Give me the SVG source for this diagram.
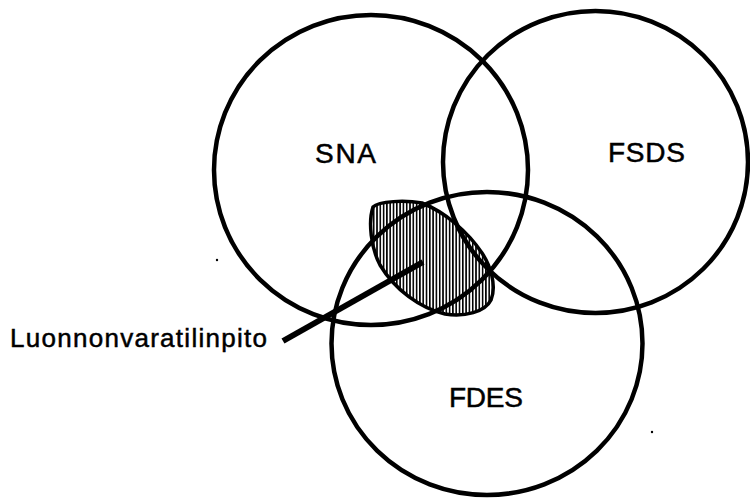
<svg xmlns="http://www.w3.org/2000/svg" width="750" height="499" viewBox="0 0 750 499">
  <defs>
    <pattern id="hatch" patternUnits="userSpaceOnUse" width="3.3" height="10">
      <rect x="0" y="0" width="1.6" height="10" fill="#000"/>
    </pattern>
    <style>
      .ring { fill: none; stroke: #000; stroke-width: 4.5; }
      .label { font-family: "Liberation Sans", Arial, Helvetica, sans-serif; font-size: 28px; fill: #000; stroke: #000; stroke-width: 0.5; }
      .leader { stroke: #000; stroke-width: 6; stroke-linecap: butt; fill: none; }
    </style>
  </defs>
  <rect width="750" height="499" fill="#fff"/>

  <!-- shaded overlap region (natural resource accounting) -->
  <g id="luonnonvaratilinpito">
    <path d="M373,207 C379,201 405,200 422,203 C445,212 468,232 482,253 C490,265 497,285 491,300 C485,312 465,317 445,314 C420,308 395,290 380,265 C371,248 368,222 373,207 Z"
          fill="url(#hatch)" stroke="#000" stroke-width="3.5"/>
  </g>

  <g id="sna">
    <ellipse class="ring" cx="371" cy="170" rx="157" ry="155"/>
    <text class="label" x="315" y="163" textLength="61" lengthAdjust="spacing">SNA</text>
  </g>

  <g id="fsds">
    <ellipse class="ring" cx="595.5" cy="162" rx="152.5" ry="151"/>
    <text class="label" x="608" y="162" textLength="77" lengthAdjust="spacing">FSDS</text>
  </g>

  <g id="fdes">
    <ellipse class="ring" cx="487" cy="343.5" rx="155.5" ry="151.5"/>
    <text class="label" x="449" y="407" textLength="74" lengthAdjust="spacing">FDES</text>
  </g>

  <g id="connectors">
    <path class="leader" d="M283,341 L423,262"/>
  </g>

  <g id="callout-label">
    <text class="label" x="10" y="347" textLength="257" lengthAdjust="spacing" style="font-size:26px">Luonnonvaratilinpito</text>
  </g>

  <!-- small print specks -->
  <circle cx="217" cy="260" r="1.2" fill="#000"/>
  <circle cx="652" cy="432" r="1.2" fill="#000"/>
</svg>
